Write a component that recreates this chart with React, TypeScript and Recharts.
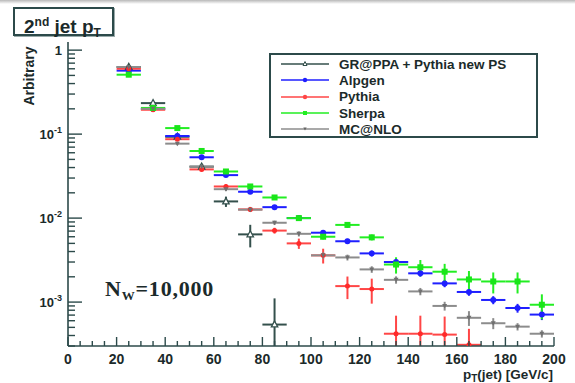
import { ScatterChart, Scatter, XAxis, YAxis, ErrorBar, Legend } from "recharts";

// 2nd jet pT, bins of 10 GeV/c
const binCenters = [25, 35, 45, 55, 65, 75, 85, 95, 105, 115, 125, 135, 145, 155, 165, 175, 185, 195];
const binHalfWidth = 5;

// values (null = no entry)
const grappaValues = [0.63, 0.234, 0.093, 0.041, 0.0158, 0.0064, 0.00054, null, null, null, null, null, null, null, null, null, null, null];
const alpgenValues = [0.57, 0.2, 0.095, 0.053, 0.0325, 0.0206, 0.0135, 0.01, 0.0067, 0.0053, 0.0038, 0.003, 0.0022, 0.00167, 0.00132, 0.00106, 0.00085, 0.00071];
const pythiaValues = [0.6, 0.195, 0.087, 0.038, 0.0238, 0.0127, 0.0071, 0.005, 0.0036, 0.00155, 0.00143, 0.00042, 0.00042, 0.00041, 0.00031, null, null, null];
const sherpaValues = [0.51, 0.205, 0.118, 0.063, 0.0359, 0.0238, 0.0176, 0.01, 0.006, 0.0083, 0.0059, 0.0028, 0.0026, 0.0023, 0.00186, 0.00176, 0.00176, 0.00093];
const mcnloValues = [0.63, 0.2, 0.077, 0.041, 0.0221, 0.0126, 0.0088, 0.0065, 0.0036, 0.0034, 0.00245, 0.00184, 0.00134, 0.0009, 0.00065, 0.00056, 0.00051, 0.00042];

// relative statistical errors
const grappaErrors = [0.03, 0.04, 0.06, 0.08, 0.14, 0.3, 1.05, 0, 0, 0, 0, 0, 0, 0, 0, 0, 0, 0];
const alpgenErrors = [0.02, 0.03, 0.04, 0.04, 0.05, 0.05, 0.06, 0.06, 0.07, 0.07, 0.08, 0.09, 0.09, 0.1, 0.1, 0.11, 0.12, 0.14];
const pythiaErrors = [0.02, 0.03, 0.04, 0.05, 0.06, 0.07, 0.08, 0.14, 0.2, 0.3, 0.33, 0.64, 0.64, 0.64, 0.55, 0, 0, 0];
const sherpaErrors = [0.02, 0.03, 0.04, 0.04, 0.05, 0.05, 0.06, 0.06, 0.07, 0.08, 0.08, 0.22, 0.22, 0.24, 0.26, 0.28, 0.28, 0.33];
const mcnloErrors = [0.02, 0.03, 0.04, 0.05, 0.05, 0.06, 0.06, 0.07, 0.09, 0.08, 0.09, 0.1, 0.1, 0.12, 0.2, 0.15, 0.1, 0.1];

const xLabelTicks = [0, 20, 40, 60, 80, 100, 120, 140, 160, 180, 200];
const decades = [-4, -3, -2, -1, 0];

const AXIS = "#2c4a4a";
const TEXT = "#1b2a2a";
const SANS = "'Liberation Sans', Arial, Helvetica, sans-serif";
const Y_MIN = 3e-4;
const Y_MAX = 1.25;

const xTicks: number[] = [];
for (let v = 0; v <= 200; v += 5) xTicks.push(v);

const yTicks: number[] = [];
decades.forEach((d) => {
  for (let m = 1; m <= 9; m++) {
    const v = m * Math.pow(10, d);
    if (v >= Y_MIN * 0.999 && v <= Y_MAX) yTicks.push(v);
  }
});

// error bars are clipped at the bottom of the frame, like ROOT does
function toPoints(values: (number | null)[], errors: number[]) {
  const pts: { x: number; y: number; ex: number; ey: [number, number] }[] = [];
  values.forEach((v, i) => {
    if (v == null) return;
    const r = errors[i];
    pts.push({ x: binCenters[i], y: v, ex: binHalfWidth, ey: [Math.max(0, Math.min(v * r, v - Y_MIN)), v * r] });
  });
  return pts;
}

const OpenTriangle = (color: string) => (p: any) => (
  <path
    d={`M${p.cx},${p.cy - 3.6} L${p.cx + 3.2},${p.cy + 2.4} L${p.cx - 3.2},${p.cy + 2.4} Z`}
    fill="#fff"
    stroke={color}
    strokeWidth={1.3}
  />
);
const Dot = (color: string, r: number) => (p: any) => <circle cx={p.cx} cy={p.cy} r={r} fill={color} />;
const Square = (color: string) => (p: any) => <rect x={p.cx - 3} y={p.cy - 3} width={6} height={6} fill={color} />;
const DownTriangle = (color: string) => (p: any) => (
  <path d={`M${p.cx - 2.5},${p.cy - 2} L${p.cx + 2.5},${p.cy - 2} L${p.cx},${p.cy + 2.5} Z`} fill={color} />
);

const series = [
  { name: "GR@PPA + Pythia new PS", color: "#34504c", data: toPoints(grappaValues, grappaErrors), shape: OpenTriangle("#34504c"), legend: "tri" },
  { name: "Alpgen", color: "#1f1fff", data: toPoints(alpgenValues, alpgenErrors), shape: Dot("#1f1fff", 3), legend: "dot" },
  { name: "Pythia", color: "#ff4646", data: toPoints(pythiaValues, pythiaErrors), shape: Dot("#ff2a2a", 2.5), legend: "dot" },
  { name: "Sherpa", color: "#22ee22", data: toPoints(sherpaValues, sherpaErrors), shape: Square("#19e619"), legend: "sq" },
  { name: "MC@NLO", color: "#8c8c8c", data: toPoints(mcnloValues, mcnloErrors), shape: DownTriangle("#707070"), legend: "down" },
];

function XTick({ x, y, payload }: any) {
  const v = payload.value;
  const major = v % 20 === 0;
  return (
    <g>
      <line x1={x} x2={x} y1={y} y2={y - (major ? 9 : 5)} stroke={AXIS} strokeWidth={1.4} />
      {xLabelTicks.includes(v) && (
        <text x={x} y={y + 18} textAnchor="middle" fontFamily={SANS} fontWeight="bold" fontSize={14} fill={TEXT}>
          {v}
        </text>
      )}
    </g>
  );
}

function YTick({ x, y, payload }: any) {
  const v = payload.value;
  const lg = Math.log10(v);
  const exp = Math.round(lg);
  const decade = Math.abs(lg - exp) < 1e-6;
  return (
    <g>
      <line x1={x} x2={x + (decade ? 14 : 7)} y1={y} y2={y} stroke={AXIS} strokeWidth={1.4} />
      {decade && (
        <text x={x - 6} y={y + 5} textAnchor="end" fontFamily={SANS} fontWeight="bold" fontSize={13} fill={TEXT}>
          {exp === 0 ? "1" : "10"}
          {exp !== 0 && (
            <tspan dy={-6} fontSize={9}>
              {exp}
            </tspan>
          )}
        </text>
      )}
    </g>
  );
}

function LegendMarker({ kind, color }: { kind: string; color: string }) {
  return (
    <svg width={48} height={10} style={{ marginRight: 10 }}>
      <line x1={0} x2={48} y1={5} y2={5} stroke={color} strokeWidth={1.5} />
      {kind === "tri" && <path d="M24,2.5 L26,6.5 L22,6.5 Z" fill="#fff" stroke={color} strokeWidth={1} />}
      {kind === "dot" && <circle cx={24} cy={5} r={2.2} fill={color} />}
      {kind === "sq" && <rect x={22} y={3} width={4} height={4} fill={color} />}
      {kind === "down" && <path d="M22.3,3.5 L25.7,3.5 L24,6.5 Z" fill="#666" />}
    </svg>
  );
}

function LegendBox() {
  return (
    <div
      style={{
        border: `2px solid ${AXIS}`,
        background: "#fff",
        width: 269,
        height: 85,
        padding: "1px 0 0 10px",
        boxSizing: "border-box",
        fontFamily: SANS,
        fontWeight: "bold",
        fontSize: 13.5,
        color: TEXT,
      }}
    >
      {series.map((s) => (
        <div key={s.name} style={{ display: "flex", alignItems: "center", height: 16.3 }}>
          <LegendMarker kind={s.legend} color={s.color} />
          <span>{s.name}</span>
        </div>
      ))}
    </div>
  );
}

export default function App() {
  return (
    <div style={{ position: "absolute", left: 0, top: 0, width: 575, height: 383, background: "#fff", overflow: "hidden" }}>
      <div style={{ position: "absolute", left: 0, top: 0, width: 575, height: 4, background: "linear-gradient(#b8b8b8, #fff)" }} />
      <ScatterChart width={575} height={383} margin={{ top: 42, right: 21, bottom: 0, left: 0 }}>
        <XAxis
          dataKey="x"
          type="number"
          domain={[0, 200]}
          ticks={xTicks}
          interval={0}
          tick={<XTick />}
          tickLine={false}
          tickSize={0}
          tickMargin={0}
          height={37}
          axisLine={{ stroke: AXIS, strokeWidth: 1.6 }}
          allowDataOverflow
        />
        <XAxis xAxisId="top" orientation="top" type="number" domain={[0, 200]} height={0} tick={false} tickLine={false} axisLine={{ stroke: AXIS, strokeWidth: 1.6 }} />
        <YAxis
          dataKey="y"
          type="number"
          scale="log"
          domain={[Y_MIN, Y_MAX]}
          ticks={yTicks}
          interval={0}
          tick={<YTick />}
          tickLine={false}
          tickSize={0}
          tickMargin={0}
          width={68}
          axisLine={{ stroke: AXIS, strokeWidth: 1.6 }}
          allowDataOverflow
        />
        <YAxis yAxisId="right" orientation="right" type="number" width={0} tick={false} tickLine={false} axisLine={{ stroke: AXIS, strokeWidth: 1.6 }} />
        <Legend
          layout="vertical"
          align="center"
          verticalAlign="middle"
          content={() => <LegendBox />}
          wrapperStyle={{ left: 269, top: 53, width: 270, height: 86 }}
        />
        {series.map((s) => (
          <Scatter key={s.name} name={s.name} data={s.data} fill={s.color} shape={s.shape} isAnimationActive={false}>
            <ErrorBar dataKey="ex" direction="x" width={0} stroke={s.color} strokeWidth={2} />
            <ErrorBar dataKey="ey" direction="y" width={0} stroke={s.color} strokeWidth={2} />
          </Scatter>
        ))}
      </ScatterChart>

      <div
        style={{
          position: "absolute",
          left: 13,
          top: 7,
          width: 101,
          height: 29,
          boxSizing: "border-box",
          border: `2px solid ${AXIS}`,
          boxShadow: "1px 1px 0 #9aa",
          fontFamily: SANS,
          fontWeight: "bold",
          fontSize: 19,
          color: TEXT,
          paddingLeft: 9,
          lineHeight: "26px",
          whiteSpace: "nowrap",
        }}
      >
        2<sup style={{ fontSize: 12, verticalAlign: 7 }}>nd</sup> jet p<sub style={{ fontSize: 12, verticalAlign: -4 }}>T</sub>
      </div>

      <div
        style={{
          position: "absolute",
          left: 29,
          top: 76,
          transform: "translate(-50%, -50%) rotate(-90deg)",
          fontFamily: SANS,
          fontWeight: "bold",
          fontSize: 14,
          color: TEXT,
          whiteSpace: "nowrap",
        }}
      >
        Arbitrary
      </div>

      <div
        style={{
          position: "absolute",
          right: 22,
          top: 368,
          fontFamily: SANS,
          fontWeight: "bold",
          fontSize: 13.5,
          lineHeight: "13px",
          color: TEXT,
          whiteSpace: "nowrap",
        }}
      >
        p<sub style={{ fontSize: 10, verticalAlign: -3, lineHeight: "10px" }}>T</sub>(jet) [GeV/c]
      </div>

      <div
        style={{
          position: "absolute",
          left: 105,
          top: 276,
          fontFamily: "'Liberation Serif', 'Times New Roman', serif",
          fontWeight: "bold",
          fontSize: 22,
          letterSpacing: 0.8,
          color: TEXT,
          whiteSpace: "nowrap",
        }}
      >
        N<sub style={{ fontSize: 13, verticalAlign: -4 }}>W</sub>=10,000
      </div>
    </div>
  );
}
